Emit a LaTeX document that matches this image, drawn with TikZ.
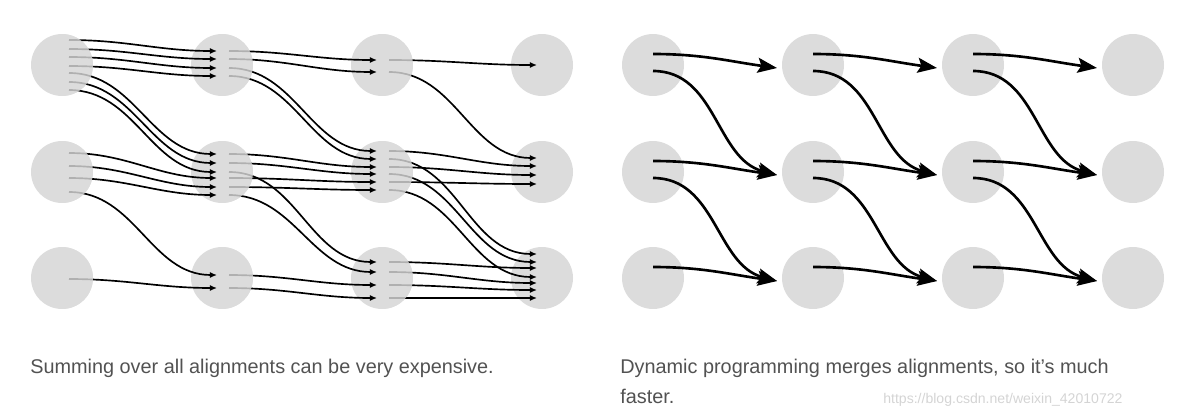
\documentclass[tikz,border=0pt]{standalone}
\usepackage{fontspec}
\setmainfont{Liberation Sans}
\usetikzlibrary{arrows.meta,calc}
\definecolor{dotgray}{RGB}{220,220,220}
\definecolor{captext}{RGB}{82,82,82}
\definecolor{marktext}{RGB}{212,212,212}

\begin{document}
\begin{tikzpicture}[x=0.02cm,y=-0.02cm,
    dot/.style={circle,fill=dotgray,minimum size=1.24cm,inner sep=0pt},
    onepath/.style={line width=0.95pt,-{Latex[length=4pt,width=3.4pt]}},
    merged/.style={line width=1.5pt,-{Stealth[length=11pt,width=8.5pt,inset=2pt]}},
    caption/.style={anchor=base west,inner sep=0pt,text=captext,font=\fontsize{11.3}{17}\selectfont}]
  \useasboundingbox (0,0) rectangle (1200,419);

  % Dots
  \foreach \r/\y in {1/65,2/172,3/278}
    \foreach \c/\x in {1/62,2/222,3/382,4/542}
    {
      \node[dot] (L-\r-\c) at (\x,\y) {};
      \node[dot] (R-\r-\c) at (\x+591,\y) {};
    }

  % All alignments (row/offset at each step)
  \foreach \ra/\oa/\rb/\ob/\rc/\oc/\rd/\od in {
      1/-25/1/-14/1/-5/1/0,
      1/-16/1/-6/1/7/2/-14,
      1/-8/1/3/2/-21/2/-6,
      1/1/1/11/2/-13/3/-24,
      1/8/2/-18/2/-5/2/3,
      1/17/2/-9/2/2/3/-16,
      1/25/2/0/3/-16/3/-10,
      2/-19/2/6/2/10/2/12,
      2/-6/2/15/2/18/3/-1,
      2/6/2/23/3/-6/3/5,
      2/20/3/-3/3/7/3/12,
      3/1/3/10/3/20/3/20}
  {
    \draw[onepath] ([shift={(7,\oa)}]L-\ra-1.center) to[out=0,in=180] ([shift={(-5,\ob)}]L-\rb-2.center);
    \draw[onepath] ([shift={(7,\ob)}]L-\rb-2.center) to[out=0,in=180] ([shift={(-5,\oc)}]L-\rc-3.center);
    \draw[onepath] ([shift={(7,\oc)}]L-\rc-3.center) to[out=0,in=180] ([shift={(-5,\od)}]L-\rd-4.center);
  }

  % lines fade inside the dots
  \foreach \r in {1,2,3}
    \foreach \c in {1,2,3}
    {
      \begin{scope}
        \clip ($(L-\r-\c.center)+(3,-35)$) rectangle ++(35,70);
        \fill[dotgray,opacity=0.8] (L-\r-\c.center) circle[radius=0.62cm];
      \end{scope}
    }

  % Dynamic programming
  \foreach \r in {1,2,3}
    \foreach \c/\n in {1/2,2/3,3/4}
      \draw[merged] ([shift={(0,-11)}]R-\r-\c.center) to[out=0,in=172] ([shift={(-36,3)}]R-\r-\n.center);
  \foreach \r/\s in {1/2,2/3}
    \foreach \c/\n in {1/2,2/3,3/4}
      \draw[merged] ([shift={(0,6)}]R-\r-\c.center) to[out=0,in=165] ([shift={(-36,3)}]R-\s-\n.center);

  % Captions
  \node[caption] (cap-sum) at (30,373) {Summing over all alignments can be very expensive.};
  \node[caption] (cap-dp) at (620,373) {Dynamic programming merges alignments, so it’s much};
  \node[caption] (cap-dp2) at (620,403) {faster.};
  \node[anchor=base west,inner sep=0pt,text=marktext,font=\fontsize{8}{10}\selectfont] (mark) at (883,403) {https://blog.csdn.net/weixin\_42010722};
\end{tikzpicture}
\end{document}
